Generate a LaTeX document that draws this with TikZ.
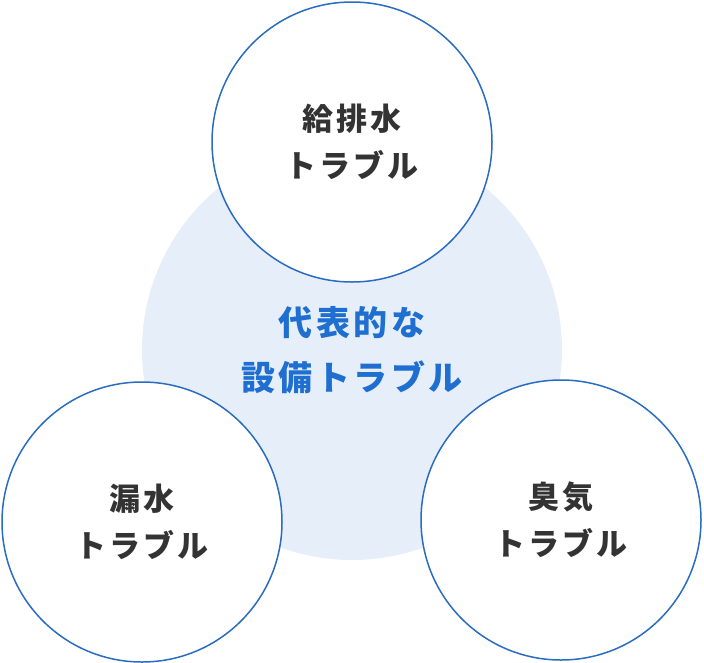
\documentclass[tikz,border=0pt]{standalone}
\usepackage{fontspec}
\newfontfamily\jpfont{Noto Sans CJK JP}[LetterSpace=10]
\definecolor{troubleBlue}{HTML}{2A6CC0}
\definecolor{troubleSky}{HTML}{E6EEFA}
\definecolor{troubleText}{HTML}{1F6FD1}
\definecolor{troubleInk}{HTML}{333333}

\begin{document}
\begin{tikzpicture}[
        x=1pt, y=-1pt,
        bigdisc/.style={
          circle,
          fill=troubleSky,
          minimum size=420pt,
          inner sep=0pt,
          text=troubleText,
          align=center,
          font=\jpfont\bfseries\fontsize{34}{55}\selectfont,
        },
        topic/.style={
          circle,
          draw=troubleBlue,
          fill=white,
          line width=1.5pt,
          minimum size=280pt,
          inner sep=0pt,
          text=troubleInk,
          align=center,
          font=\jpfont\bfseries\fontsize{31}{47}\selectfont,
        },
      ]
        \useasboundingbox (0,0) rectangle (704,662);
        \node[bigdisc] (core) at (352,350) {代表的な\\設備トラブル};
        \node[topic] (supply) at (352,142) {給排水\\トラブル};
        \node[topic] (leak) at (142,522) {漏水\\トラブル};
        \node[topic] (odor) at (561,520) {臭気\\トラブル};
      \end{tikzpicture}
\end{document}
